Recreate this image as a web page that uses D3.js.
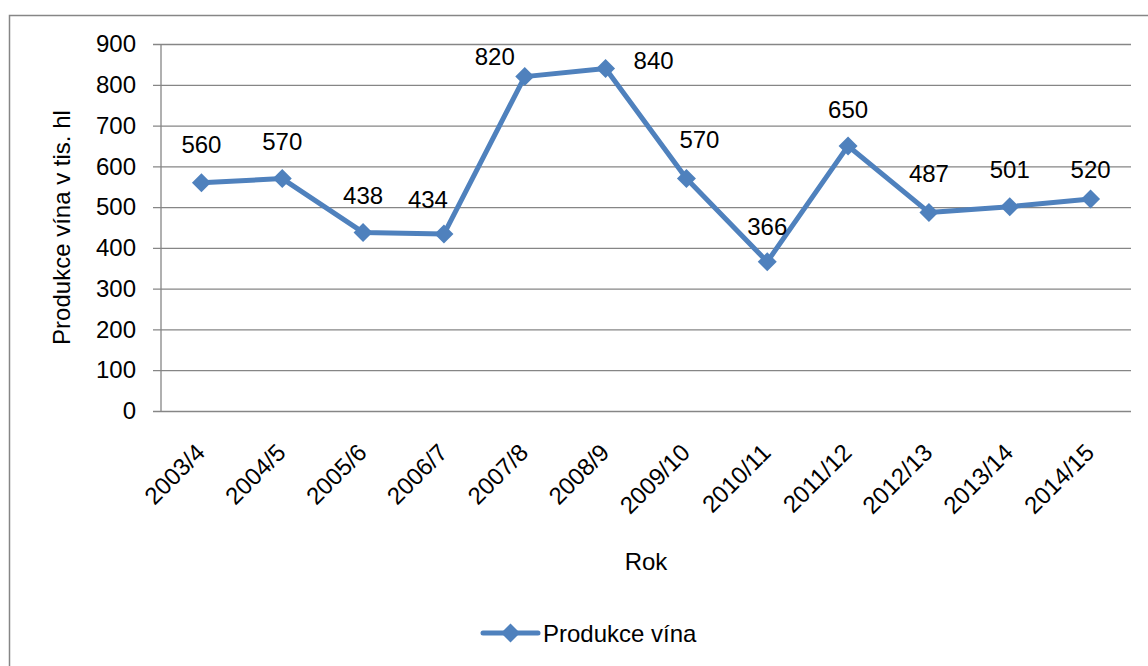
<!DOCTYPE html>
<html>
<head>
<meta charset="utf-8">
<script src="https://cdn.jsdelivr.net/npm/d3@7"></script>
<style>
  body { margin: 0; background: #fff; }
  text { font-family: "Liberation Sans", Arial, sans-serif; fill: #000; }
</style>
</head>
<body>
<div id="container"></div>
<script>
/* DATA */
const years = ["2003/4", "2004/5", "2005/6", "2006/7", "2007/8", "2008/9",
  "2009/10", "2010/11", "2011/12", "2012/13", "2013/14", "2014/15"]
const production = [560, 570, 438, 434, 820, 840, 570, 366, 650, 487, 501, 520]
const yTicks = [0, 100, 200, 300, 400, 500, 600, 700, 800, 900]
const seriesName = "Produkce vína"

// hand moved data labels (dx, dy from the point)
const labelShift = [[0, -30], [0, -29], [0, -28], [-16, -26], [-30, -12], [48, 1],
  [13, -31], [0, -27], [0, -28], [0, -30], [0, -29], [0, -21]]

const width = 1148,
  height = 666,
  margin = { top: 44, bottom: 255, left: 161, right: 17 },
  blue = "#4F81BD",
  grey = "#868686";

/* SCALES */
const xScale = d3.scaleBand()
  .domain(years)
  .range([margin.left, width - margin.right])

const yScale = d3.scaleLinear()
  .domain([0, 900])
  .range([height - margin.bottom, margin.top])

/* SVG */
const svg = d3.select("#container")
  .append("svg")
  .attr("width", width)
  .attr("height", height)

// chart border
svg.append("rect")
  .attr("x", 9.5)
  .attr("y", 15.5)
  .attr("width", width + 20)
  .attr("height", height + 20)
  .attr("fill", "none")
  .attr("stroke", grey)
  .attr("stroke-width", 1.5)

// y axis with gridlines
const yAxis = d3.axisLeft(yScale)
  .tickValues(yTicks)
  .tickSize(-(width - margin.left - margin.right + 8))
  .tickPadding(17)
svg.append("g")
  .attr("class", "y-axis")
  .attr("transform", `translate(${margin.left - 8},0)`)
  .call(yAxis)
  .call(g => g.select(".domain").remove())
  .call(g => g.selectAll("line").attr("stroke", grey).attr("stroke-width", 1.3))
  .call(g => g.selectAll("text").style("font-size", "24px"))

svg.append("line")
  .attr("x1", margin.left).attr("x2", margin.left)
  .attr("y1", yScale(900)).attr("y2", yScale(0))
  .attr("stroke", grey).attr("stroke-width", 1.3)

// x axis labels
const xAxis = d3.axisBottom(xScale).tickSize(0).tickPadding(0)
svg.append("g")
  .attr("transform", `translate(0,${height - margin.bottom})`)
  .call(xAxis)
  .call(g => g.select(".domain").remove())
  .call(g => g.selectAll("text")
    .style("font-size", "24px")
    .attr("text-anchor", "end")
    .attr("dy", 0)
    .attr("transform", "translate(5,43) rotate(-45)"))

// line + markers
const line = d3.line()
  .x((d, i) => xScale(years[i]) + xScale.bandwidth() / 2)
  .y(d => yScale(d))

svg.append("path")
  .datum(production)
  .attr("d", line)
  .attr("fill", "none")
  .attr("stroke", blue)
  .attr("stroke-width", 5)
  .attr("stroke-linejoin", "round")

const diamond = "M0,-9.5L9.5,0L0,9.5L-9.5,0Z"

svg.selectAll(".marker")
  .data(production)
  .join("path")
  .attr("class", "marker")
  .attr("d", diamond)
  .attr("transform", (d, i) => `translate(${xScale(years[i]) + xScale.bandwidth() / 2},${yScale(d)})`)
  .attr("fill", blue)

// data labels
svg.selectAll(".label")
  .data(production)
  .join("text")
  .attr("class", "label")
  .attr("x", (d, i) => xScale(years[i]) + xScale.bandwidth() / 2 + labelShift[i][0])
  .attr("y", (d, i) => yScale(d) + labelShift[i][1])
  .attr("text-anchor", "middle")
  .style("font-size", "24px")
  .text(d => d)

// axis titles
svg.append("text")
  .attr("x", (margin.left + width - margin.right) / 2)
  .attr("y", 570)
  .attr("text-anchor", "middle")
  .style("font-size", "24px")
  .text("Rok")

svg.append("text")
  .attr("transform", `translate(70,${(yScale(0) + yScale(900)) / 2}) rotate(-90)`)
  .attr("text-anchor", "middle")
  .style("font-size", "24px")
  .text("Produkce vína v tis. hl")

// legend
const legend = svg.append("g").attr("transform", "translate(483,633)")
legend.append("line")
  .attr("x1", 0).attr("x2", 55)
  .attr("stroke", blue).attr("stroke-width", 5).attr("stroke-linecap", "round")
legend.append("path")
  .attr("d", diamond)
  .attr("transform", "translate(27.5,0)")
  .attr("fill", blue)
legend.append("text")
  .attr("x", 60)
  .attr("y", 9)
  .style("font-size", "24px")
  .text(seriesName)
</script>
</body>
</html>
